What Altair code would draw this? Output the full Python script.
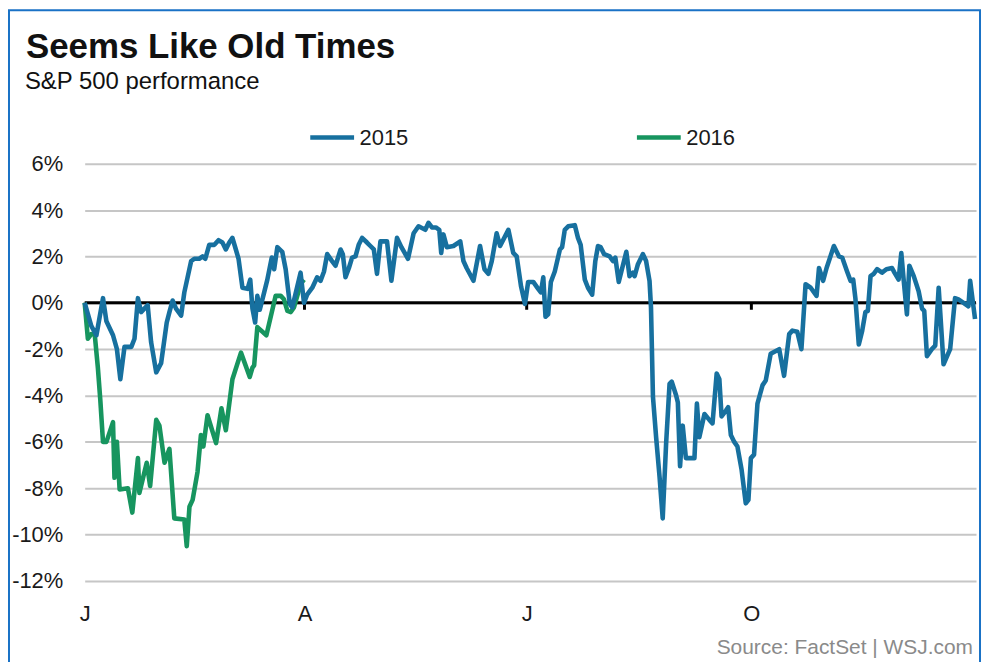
import altair as alt
import pandas as pd

FONT = "Liberation Sans, Arial, Helvetica, sans-serif"

TITLE = "Seems Like Old Times"
SUBTITLE = "S&P 500 performance"
SOURCE = "Source: FactSet  |  WSJ.com"

series_names = ["2015", "2016"]
series_colors = ["#17709f", "#17955f"]

y_ticks = [-12, -10, -8, -6, -4, -2, 0, 2, 4, 6]
month_ticks = [0, 90, 181, 273]
month_labels = ["J", "A", "J", "O"]

# day of year (x) and % change since start of year (y)
days_2015 = [
    0, 2.7, 4.8, 7.5, 8.9, 11.6, 13.2, 14.6, 16.3, 19.1,
    20.4, 21.8, 23.1, 25.8, 27.2, 29.3, 31.3, 33.6, 34.7, 36.0,
    37.4, 39.5, 40.8, 43.6, 44.9, 46.9, 48.3, 49.4, 51.0, 53.1,
    54.8, 56.4, 57.8, 59.2, 60.5, 61.9, 63.0, 64.6, 66.7, 67.8,
    68.7, 69.8, 70.7, 71.7, 73.5, 74.8, 76.6, 77.6, 78.9, 80.9,
    82.3, 84.0, 85.0, 88.4, 89.8, 91.1, 93.2, 95.2, 96.6, 98.0,
    99.3, 101.3, 102.7, 104.8, 105.7, 106.8, 108.2, 109.5, 110.9, 112.2,
    113.6, 115.6, 117.0, 118.4, 119.7, 121.1, 123.8, 125.6, 127.9, 129.7,
    132.4, 134.7, 136.7, 139.5, 140.8, 142.2, 143.8, 145.2, 146.0, 146.9,
    148.3, 151.0, 153.8, 155.1, 156.4, 159.2, 161.9, 163.7, 165.3, 166.7,
    168.7, 170.1, 173.5, 175.5, 176.9, 178.7, 180.3, 181.6, 183.7, 185.7,
    186.8, 187.8, 188.7, 189.8, 190.9, 192.5, 194.6, 195.5, 196.6, 198.0,
    200.7, 202.0, 203.1, 204.8, 206.1, 207.8, 209.1, 210.2, 211.3, 212.7,
    215.0, 216.3, 217.3, 218.7, 220.0, 221.8, 223.1, 224.5, 225.2, 226.5,
    228.6, 229.9, 231.3, 231.9, 232.7, 234.0, 235.4, 236.7, 238.1, 239.5,
    240.4, 242.2, 242.9, 243.8, 244.9, 246.2, 249.7, 250.7, 251.7, 253.8,
    255.8, 257.1, 258.8, 259.9, 260.8, 262.6, 263.5, 264.6, 266.0, 267.3,
    269.0, 270.7, 271.8, 272.8, 274.1, 275.5, 277.6, 278.9, 280.9, 284.4,
    286.4, 288.5, 289.8, 291.8, 293.5, 295.2, 297.3, 299.7, 300.7, 302.4,
    303.8, 306.8, 308.9, 310.2, 312.2, 313.6, 314.7, 315.6, 317.0, 318.4,
    319.7, 320.7, 321.8, 323.1, 324.5, 326.5, 328.3, 330.6, 331.6, 333.3,
    334.4, 335.4, 336.7, 337.7, 339.5, 341.5, 342.9, 343.8, 344.9, 346.9,
    348.3, 349.7, 351.7, 354.4, 356.4, 357.8, 359.9, 361.9, 362.6, 364.6,
]
pct_2015 = [
    0, -1.0, -1.4, 0.2, -0.8, -1.4, -2.0, -3.3, -1.9, -1.9,
    -1.55, 0.2, -0.4, -0.1, -1.7, -3.0, -2.6, -0.85, -0.4, 0.1,
    -0.25, -0.55, 0.45, 1.8, 1.9, 1.9, 2.0, 1.9, 2.5, 2.5,
    2.7, 2.6, 2.3, 2.6, 2.8, 2.3, 1.9, 0.65, 0.6, 1.0,
    -0.25, -0.85, 0.3, -0.3, 0.45, 1.0, 1.95, 1.45, 2.4, 2.2,
    1.45, -0.05, -0.2, 1.3, 0.0, 0.35, 0.65, 1.1, 0.95, 1.35,
    2.1, 1.8, 1.6, 2.3, 2.1, 1.1, 1.5, 1.95, 2.0, 2.5,
    2.8, 2.6, 2.45, 2.3, 1.25, 2.65, 2.65, 0.95, 2.8, 2.4,
    1.9, 3.0, 3.3, 3.15, 3.45, 3.25, 3.25, 3.15, 2.15, 2.95,
    2.4, 2.45, 2.65, 1.8, 1.5, 0.95, 2.45, 1.45, 1.25, 1.8,
    3.0, 2.45, 3.15, 2.15, 2.0, 0.7, -0.05, 0.9, 0.9, 0.6,
    0.45, 1.1, -0.6, -0.5, 0.9, 1.35, 2.3, 2.4, 3.15, 3.3,
    3.35, 2.8, 2.5, 1.0, 0.65, 0.35, 1.8, 2.45, 2.4, 2.1,
    2.0, 1.8, 1.95, 0.9, 1.45, 2.2, 1.15, 1.3, 1.15, 1.65,
    2.1, 1.8, 0.95, -0.2, -4.05, -5.8, -7.5, -9.3, -6.05, -3.5,
    -3.4, -4.0, -4.3, -7.05, -5.3, -6.7, -6.7, -4.35, -5.8, -4.8,
    -5.05, -5.2, -3.05, -3.3, -4.9, -4.65, -4.5, -5.7, -6.0, -6.2,
    -7.2, -8.65, -8.5, -6.7, -6.55, -4.35, -3.55, -3.35, -2.2, -2.0,
    -3.15, -1.35, -1.2, -1.25, -2.0, 0.8, 0.65, 0.3, 1.5, 0.95,
    1.5, 2.45, 2.0, 1.95, 1.35, 0.95, 1.0, 0.2, -1.8, -1.2,
    -0.4, -0.35, 1.15, 1.25, 1.45, 1.3, 1.45, 1.5, 1.3, 1.0,
    2.15, 0.95, -0.5, 1.6, 1.15, 0.5, -0.25, -0.35, -2.3, -2.0,
    -1.85, 0.65, -2.65, -2.0, 0.2, 0.15, 0.0, -0.15, 0.95, -0.7,
]

days_2016 = [
    0, 1.3, 2.7, 4.1, 5.4, 6.4, 7.5, 8.9, 11.6, 12.2,
    13.2, 14.3, 17.7, 19.5, 21.8, 22.4, 25.4, 26.8, 29.3, 30.6,
    32.7, 34.7, 36.7, 40.8, 41.8, 42.9, 44.2, 46.2, 47.6, 48.6,
    50.3, 53.8, 56.0, 57.8, 60.5, 64.0, 67.6, 68.7, 69.4, 70.7,
    74.4, 78.2, 80.3, 81.6, 83.0, 84.4, 85.7, 88.4, 89.8,
]
pct_2016 = [
    0, -1.55, -1.35, -1.35, -2.8, -4.2, -6.0, -6.0, -5.15, -7.55,
    -6.0, -8.05, -8.0, -9.05, -6.7, -8.2, -6.9, -7.9, -5.05, -5.3,
    -6.9, -6.3, -9.3, -9.35, -10.5, -8.8, -8.5, -7.3, -5.7, -6.2,
    -4.85, -6.05, -4.55, -5.5, -3.3, -2.15, -3.2, -2.8, -2.7, -1.05,
    -1.4, 0.3, 0.3, 0.15, -0.35, -0.4, -0.2, 0.8, 1.0,
]

assert len(days_2015) == len(pct_2015)
assert len(days_2016) == len(pct_2016)

df = pd.concat([
    pd.DataFrame({"day": days_2015, "pct": pct_2015, "series": series_names[0]}),
    pd.DataFrame({"day": days_2016, "pct": pct_2016, "series": series_names[1]}),
])

W, H = 895, 419

label_map = "{" + ",".join(f"'{v}':'{l}'" for v, l in zip(month_ticks, month_labels)) + "}"

x_enc = alt.X(
    "day:Q",
    scale=alt.Scale(domain=[0, 365], nice=False, zero=False),
    axis=alt.Axis(
        values=month_ticks, labelExpr=f"{label_map}[''+datum.value]", title=None,
        grid=False, ticks=False, domain=False, labelFontSize=22, labelFont=FONT,
        labelColor="#1a1a1a", labelPadding=23, labelAlign="center",
    ),
)
y_enc = alt.Y(
    "pct:Q",
    scale=alt.Scale(domain=[-12, 6], nice=False, zero=False),
    axis=alt.Axis(
        values=y_ticks, labelExpr="datum.value + '%'", title=None,
        grid=True, gridColor="#c6c6c6", gridWidth=2, ticks=False, domain=False,
        labelFontSize=22, labelFont=FONT, labelColor="#1a1a1a", labelPadding=22,
    ),
)
legend = alt.Legend(
    title=None, orient="none", legendX=224, legendY=-51, direction="horizontal",
    symbolType="stroke", symbolSize=1936, symbolStrokeWidth=4.5,
    labelFontSize=22, labelFont=FONT, labelColor="#1a1a1a", labelOffset=3,
    columnPadding=220, padding=0,
)
color_enc = alt.Color(
    "series:N", scale=alt.Scale(domain=series_names, range=series_colors), legend=legend
)

lines_2016 = alt.Chart(df).transform_filter(alt.datum.series == series_names[1]).mark_line(
    strokeWidth=4.6, strokeJoin="round"
).encode(x=x_enc, y=y_enc, color=color_enc, order="day:Q")

lines_2015 = alt.Chart(df).transform_filter(alt.datum.series == series_names[0]).mark_line(
    strokeWidth=4.6, strokeJoin="round"
).encode(x=x_enc, y=y_enc, color=color_enc, order="day:Q")

zero_rule = alt.Chart(pd.DataFrame({"v": [0]})).mark_rule(color="#000000", strokeWidth=3).encode(
    y=alt.Y("v:Q")
)

tick_df = pd.DataFrame({"day": month_ticks, "top": 0, "bottom": -0.3})
tick_rules = alt.Chart(tick_df).mark_rule(color="#000000", strokeWidth=3).encode(
    x=alt.X("day:Q"), y=alt.Y("top:Q"), y2="bottom:Q"
)

def text_layer(txt, x, y, size, weight="normal", color="#111111", align="left"):
    return alt.Chart(pd.DataFrame({"t": [txt]})).mark_text(
        align=align, baseline="alphabetic", fontSize=size, fontWeight=weight,
        font=FONT, color=color,
    ).encode(x=alt.value(x), y=alt.value(y), text="t:N")

title_t = text_layer(TITLE, -59, -106, 35, weight="bold", color="#111111")
sub_t = text_layer(SUBTITLE, -60, -75, 24, color="#111111")
source_t = text_layer(SOURCE, 892, 492, 21, color="#8a8a8a", align="right")

frame = alt.Chart(pd.DataFrame({"a": [0]})).mark_rect(
    fillOpacity=0, stroke="#1a72c6", strokeWidth=2
).encode(x=alt.value(-76), x2=alt.value(W + 4), y=alt.value(-154), y2=alt.value(H + 140))

chart = alt.layer(
    frame, zero_rule, tick_rules, lines_2016, lines_2015, title_t, sub_t, source_t
).properties(
    width=W, height=H,
    padding={"left": 77, "top": 155, "right": 6, "bottom": 80},
    autosize=alt.AutoSizeParams(type="none"),
    background="#ffffff",
).configure_view(stroke=None)

chart.save("out.html", embed_options={"renderer": "svg", "actions": False})
